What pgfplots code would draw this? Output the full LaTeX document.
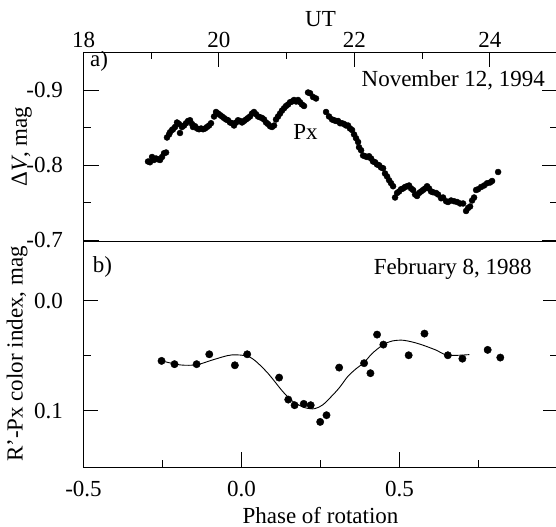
\documentclass[border=0pt]{standalone}
\usepackage{fontspec}
\setmainfont{Liberation Serif}
\usepackage{pgfplots}
\pgfplotsset{compat=1.18}
\newcommand\F{\fontsize{23bp}{27bp}\selectfont}
\pgfplotsset{
  panel/.style={
    scale only axis, width=474bp,
    axis line style={line width=0.9bp},
    tick style={line width=0.9bp, black},
    tick align=inside,
    major tick length=15bp, minor tick length=7.5bp,
    ytick pos=both, yticklabel pos=left,
    y dir=reverse,
    tick label style={font=\F, inner sep=0pt},
    label style={font=\F},
    yticklabel style={anchor=east, xshift=-20.5bp},
    ylabel style={anchor=center},
  },
}
\begin{document}
\begin{tikzpicture}[font=\F]
\useasboundingbox (0,0) rectangle (556bp,527bp);

% a) light curve, November 12, 1994
\begin{axis}[panel, at={(83.5bp,286bp)}, anchor=south west, height=189bp,
  xmin=18, xmax=25, ymin=-0.951, ymax=-0.699,
  xtick={18,20,22,24}, xticklabels={18,20,22,24}, minor xtick={19,21,23},
  xtick pos=right, xticklabel pos=right,
  xticklabel style={anchor=base, yshift=4bp},
  ytick={-0.9,-0.8,-0.7}, yticklabels={-0.9,-0.8,-0.7}, minor ytick={-0.85,-0.75},
  xlabel={UT}, xlabel style={at={(axis description cs:0.5,1)}, anchor=base, yshift=25.4bp},
  ylabel={Δ\textit{V}, mag}, ylabel style={at={(axis description cs:-0.13,0.5)}},
]
\addplot[only marks, mark=*, mark size=3bp] coordinates {
 (18.953,-0.805) (18.982,-0.804) (19.012,-0.811) (19.041,-0.807) (19.071,-0.809)
 (19.100,-0.808) (19.130,-0.807) (19.160,-0.811) (19.189,-0.816) (19.219,-0.817)
 (19.233,-0.837) (19.263,-0.841) (19.278,-0.844) (19.307,-0.847) (19.322,-0.848)
 (19.352,-0.851) (19.381,-0.857) (19.411,-0.855) (19.425,-0.843) (19.455,-0.851)
 (19.485,-0.853) (19.514,-0.856) (19.544,-0.859) (19.573,-0.860) (19.603,-0.855)
 (19.617,-0.851) (19.647,-0.852) (19.677,-0.849) (19.706,-0.848) (19.736,-0.849)
 (19.765,-0.848) (19.795,-0.849) (19.824,-0.851) (19.854,-0.853) (19.883,-0.856)
 (19.928,-0.865) (19.957,-0.871) (19.987,-0.869) (20.016,-0.867) (20.046,-0.865)
 (20.075,-0.863) (20.105,-0.861) (20.134,-0.860) (20.164,-0.857) (20.194,-0.856)
 (20.223,-0.853) (20.253,-0.857) (20.282,-0.860) (20.312,-0.859) (20.341,-0.857)
 (20.371,-0.859) (20.400,-0.861) (20.430,-0.863) (20.459,-0.865) (20.489,-0.869)
 (20.518,-0.871) (20.548,-0.868) (20.578,-0.865) (20.607,-0.864) (20.637,-0.863)
 (20.666,-0.861) (20.696,-0.857) (20.725,-0.855) (20.755,-0.852) (20.784,-0.851)
 (20.814,-0.853) (20.843,-0.861) (20.873,-0.865) (20.903,-0.869) (20.932,-0.873)
 (20.962,-0.876) (20.991,-0.879) (21.021,-0.881) (21.050,-0.884) (21.080,-0.885)
 (21.109,-0.887) (21.139,-0.885) (21.168,-0.887) (21.198,-0.884) (21.227,-0.881)
 (21.257,-0.879) (21.316,-0.897) (21.346,-0.896) (21.390,-0.891) (21.434,-0.889)
 (21.582,-0.871) (21.626,-0.865) (21.671,-0.861) (21.700,-0.860) (21.730,-0.859)
 (21.759,-0.859) (21.789,-0.856) (21.818,-0.856) (21.848,-0.855) (21.877,-0.853)
 (21.907,-0.853) (21.936,-0.849) (21.966,-0.847) (21.996,-0.841) (22.025,-0.836)
 (22.055,-0.831) (22.069,-0.824) (22.099,-0.820) (22.129,-0.813) (22.158,-0.812)
 (22.188,-0.811) (22.217,-0.812) (22.247,-0.809) (22.276,-0.805) (22.306,-0.804)
 (22.335,-0.801) (22.365,-0.800) (22.394,-0.797) (22.424,-0.796) (22.453,-0.789)
 (22.483,-0.785) (22.513,-0.780) (22.542,-0.776) (22.572,-0.772) (22.601,-0.757)
 (22.631,-0.763) (22.660,-0.765) (22.690,-0.768) (22.719,-0.769) (22.749,-0.771)
 (22.778,-0.772) (22.808,-0.773) (22.838,-0.769) (22.867,-0.767) (22.897,-0.761)
 (22.926,-0.759) (22.956,-0.763) (22.985,-0.765) (23.015,-0.767) (23.044,-0.769)
 (23.074,-0.772) (23.103,-0.769) (23.133,-0.765) (23.162,-0.764) (23.207,-0.763)
 (23.236,-0.761) (23.281,-0.756) (23.310,-0.757) (23.355,-0.752) (23.384,-0.751)
 (23.428,-0.753) (23.473,-0.752) (23.517,-0.751) (23.561,-0.749) (23.606,-0.749)
 (23.650,-0.739) (23.680,-0.743) (23.709,-0.745) (23.739,-0.753) (23.768,-0.757)
 (23.798,-0.767) (23.827,-0.768) (23.872,-0.771) (23.916,-0.773) (23.960,-0.776)
 (24.004,-0.777) (24.034,-0.779) (24.123,-0.791)
};
\node[anchor=base west, inner sep=0pt] at (axis description cs:0.0137,0.921) {a)};
\node[anchor=base east, inner sep=0pt] at (axis description cs:0.974,0.816) {November 12, 1994};
\node[anchor=base west, inner sep=0pt] at (axis cs:21.095,-0.834) {Px};
\end{axis}

% b) colour index, February 8, 1988
\begin{axis}[panel, at={(83.5bp,60bp)}, anchor=south west, height=226bp,
  xmin=-0.5, xmax=1.0, ymin=-0.0545, ymax=0.151,
  xtick={-0.5,0,0.5}, xticklabels={-0.5,0.0,0.5}, minor xtick={-0.25,0.25,0.75},
  xtick pos=left, xticklabel pos=left,
  xticklabel style={anchor=base, yshift=-29bp},
  ytick={0,0.1}, yticklabels={0.0,0.1}, minor ytick={0.05},
  xlabel={Phase of rotation}, xlabel style={at={(axis description cs:0.5,0)}, anchor=base, yshift=-56bp},
  ylabel={R'-Px color index, mag}, ylabel style={at={(axis description cs:-0.14,0.5)}},
]
\addplot[only marks, mark=*, mark size=3.7bp] coordinates {
 (-0.253,0.0545) (-0.212,0.0575) (-0.142,0.0575) (-0.102,0.0485) (-0.021,0.0585)
 (0.018,0.0485) (0.119,0.0697) (0.148,0.0897) (0.168,0.0948) (0.197,0.0936)
 (0.219,0.0948) (0.249,0.1100) (0.269,0.1039) (0.309,0.0606) (0.388,0.0566)
 (0.408,0.0657) (0.429,0.0306) (0.449,0.0397) (0.529,0.0494) (0.579,0.0297)
 (0.653,0.0494) (0.699,0.0525) (0.779,0.0445) (0.819,0.0515)
};
\addplot[smooth, line width=0.9bp] coordinates {
 (-0.253,0.0545) (-0.193,0.0582) (-0.141,0.0580) (-0.090,0.0535) (-0.031,0.0491)
 (0.027,0.0512) (0.079,0.0643) (0.131,0.0825) (0.163,0.0915) (0.200,0.0970)
 (0.231,0.0980) (0.257,0.0945) (0.284,0.0870) (0.310,0.0788) (0.336,0.0688)
 (0.362,0.0618) (0.388,0.0560) (0.414,0.0476) (0.449,0.0397) (0.477,0.0364)
 (0.509,0.0357) (0.540,0.0373) (0.572,0.0400) (0.614,0.0445) (0.653,0.0494)
 (0.721,0.0488)
};
\node[anchor=base west, inner sep=0pt] at (axis description cs:0.0194,0.860) {b)};
\node[anchor=base east, inner sep=0pt] at (axis description cs:0.946,0.850) {February 8, 1988};
\end{axis}
\end{tikzpicture}
\end{document}
